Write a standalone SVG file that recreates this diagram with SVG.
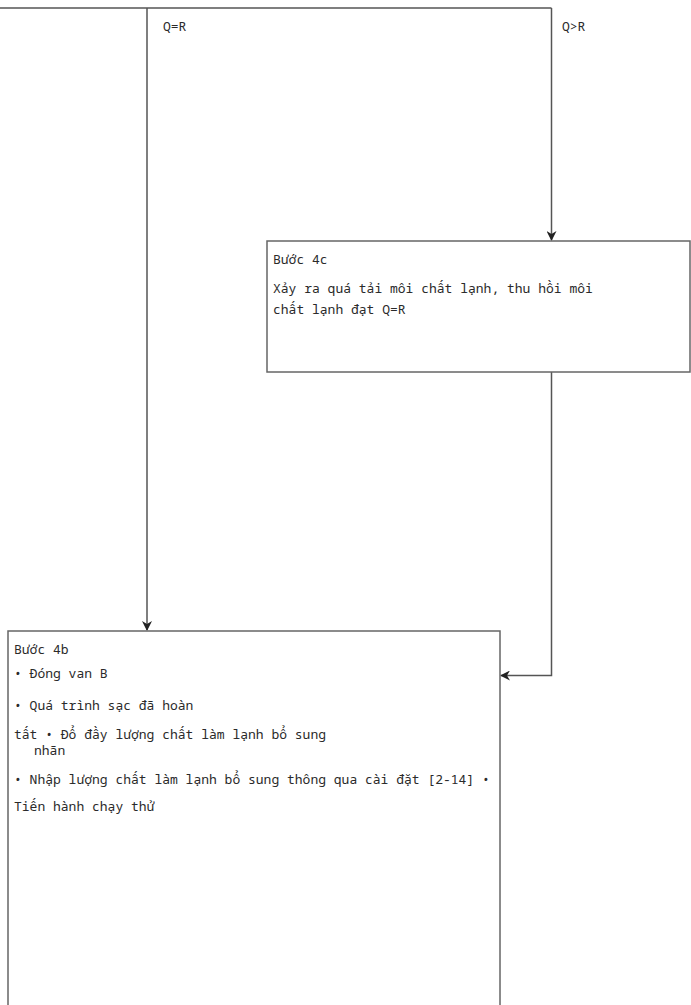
<svg xmlns="http://www.w3.org/2000/svg" width="691" height="1005" viewBox="0 0 691 1005">
<defs>
<marker id="arr" markerWidth="10" markerHeight="10" refX="9" refY="5" orient="auto" markerUnits="userSpaceOnUse">
<path d="M0,0 L10,5 L0,10 L3,5 Z" fill="#222"/>
</marker>
<style>
.box{fill:#fff;stroke:#666;stroke-width:1.5}
.ln{fill:none;stroke:#555;stroke-width:1.5}
text{font-family:"Noto Sans Mono","Liberation Mono",monospace;font-size:13px;fill:#2a2a2a}
</style>
</defs>
<rect width="691" height="1005" fill="#fff"/>
<g id="connectors">
<path class="ln" d="M0,8 H551.5"/>
<path class="ln" d="M147,8 V630" marker-end="url(#arr)"/>
<path class="ln" d="M551.5,8 V240" marker-end="url(#arr)"/>
<path class="ln" d="M551.5,372 V675.5 H501" marker-end="url(#arr)"/>
<text x="163" y="31">Q=R</text>
<text x="562" y="31">Q&gt;R</text>
</g>
<g id="step4c">
<rect class="box" x="267" y="241" width="423" height="131"/>
<text x="273" y="264">Bước 4c</text>
<text x="273" y="293">Xảy ra quá tải môi chất lạnh, thu hồi môi</text>
<text x="273" y="314">chất lạnh đạt Q=R</text>
</g>
<g id="step4b">
<rect class="box" x="8" y="631" width="492" height="390"/>
<text x="14" y="654">Bước 4b</text>
<text x="14" y="678">• Đóng van B</text>
<text x="14" y="710">• Quá trình sạc đã hoàn</text>
<text x="14" y="739">tất • Đổ đầy lượng chất làm lạnh bổ sung</text>
<text x="34" y="755">nhãn</text>
<text x="14" y="784">• Nhập lượng chất làm lạnh bổ sung thông qua cài đặt [2-14] •</text>
<text x="14" y="811">Tiến hành chạy thử</text>
</g>
</svg>
